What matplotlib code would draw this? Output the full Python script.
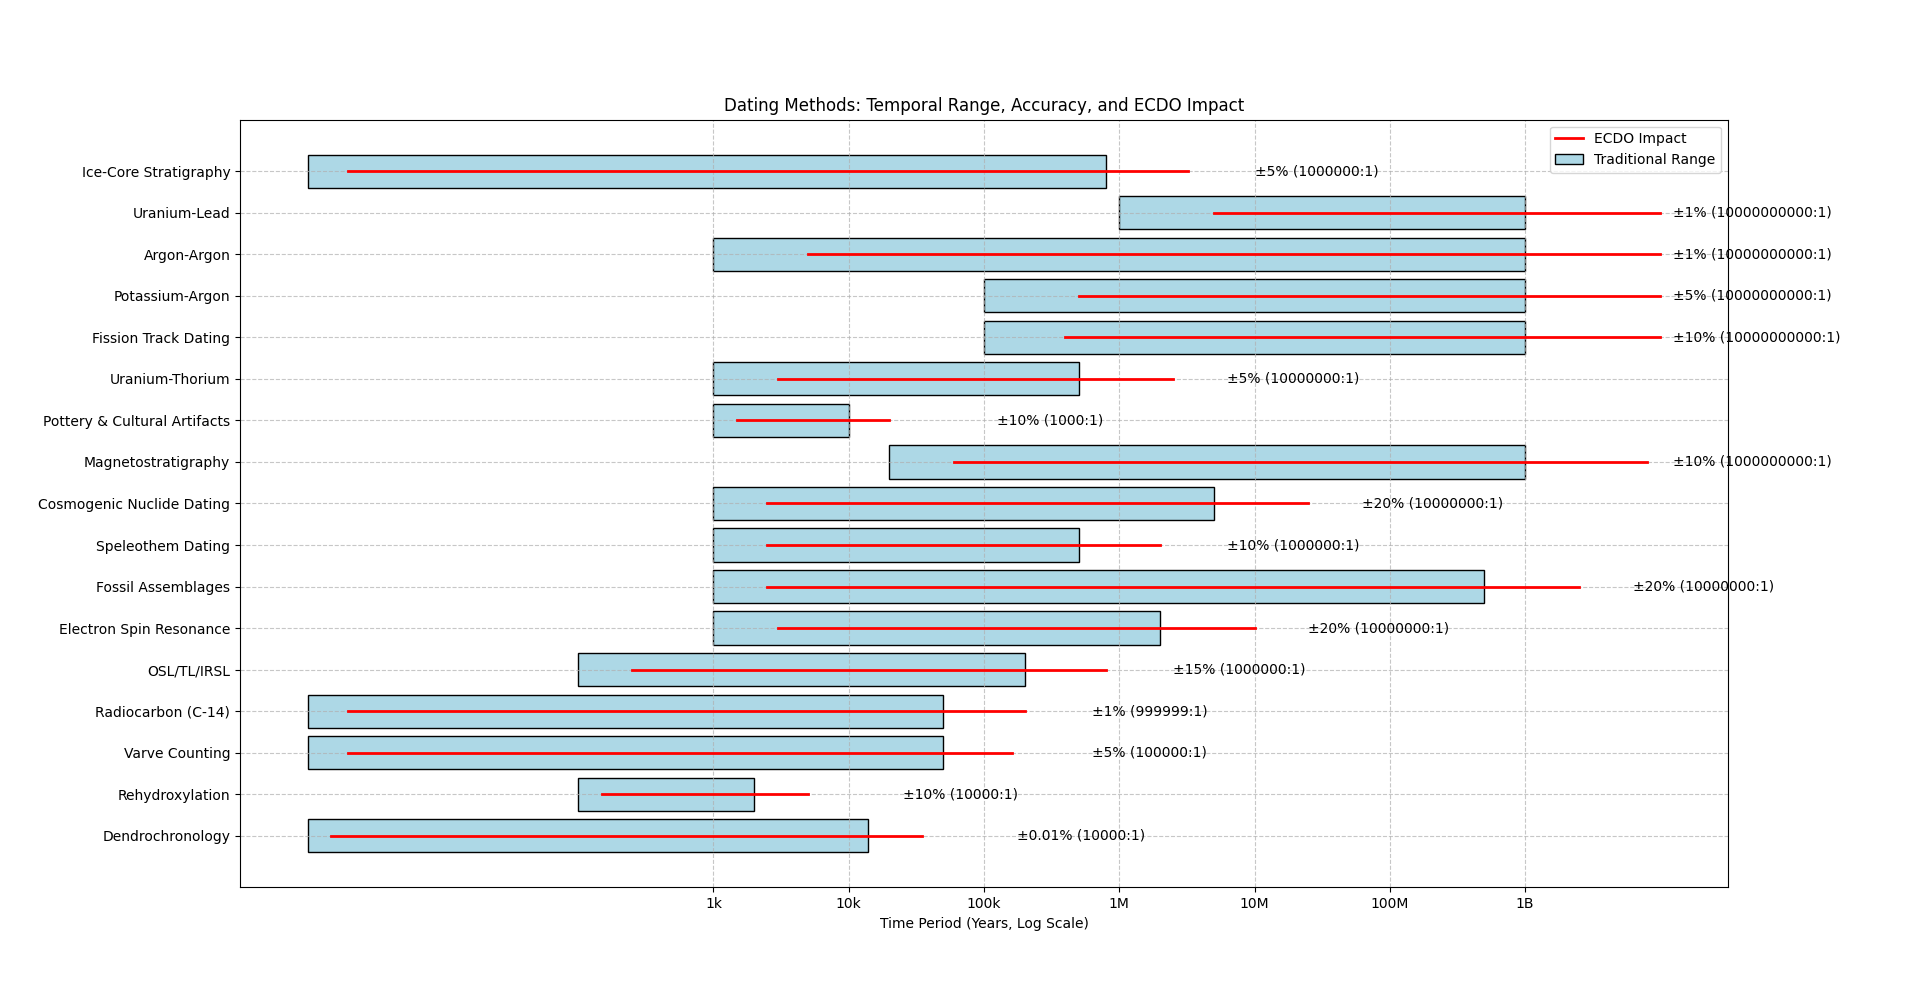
import numpy as np
import matplotlib
matplotlib.use("Agg")
import matplotlib.pyplot as plt
from matplotlib.ticker import NullLocator

# rows listed bottom -> top
methods = ["Dendrochronology", "Rehydroxylation", "Varve Counting", "Radiocarbon (C-14)",
           "OSL/TL/IRSL", "Electron Spin Resonance", "Fossil Assemblages", "Speleothem Dating",
           "Cosmogenic Nuclide Dating", "Magnetostratigraphy", "Pottery & Cultural Artifacts",
           "Uranium-Thorium", "Fission Track Dating", "Potassium-Argon", "Argon-Argon",
           "Uranium-Lead", "Ice-Core Stratigraphy"]
trad_start = [1, 100, 1, 1, 100, 1e3, 1e3, 1e3, 1e3, 2e4, 1e3, 1e3, 1e5, 1e5, 1e3, 1e6, 1]
trad_end = [1.4e4, 2e3, 5e4, 5e4, 2e5, 2e6, 5e8, 5e5, 5e6, 1e9, 1e4, 5e5, 1e9, 1e9, 1e9, 1e9, 8e5]
ecdo_start = [1.5, 150, 2, 2, 250, 3e3, 2.5e3, 2.5e3, 2.5e3, 6e4, 1.5e3, 3e3, 4e5, 5e5, 5e3, 5e6, 2]
ecdo_end = [3.5e4, 5e3, 1.6e5, 2e5, 8e5, 1e7, 2.5e9, 2e6, 2.5e7, 8e9, 2e4, 2.5e6, 1e10, 1e10, 1e10, 1e10, 3.2e6]
accuracy = ["±0.01%", "±10%", "±5%", "±1%", "±15%", "±20%", "±20%", "±10%", "±20%", "±10%",
            "±10%", "±5%", "±10%", "±5%", "±1%", "±1%", "±5%"]
ratio = ["10000:1", "10000:1", "100000:1", "999999:1", "1000000:1", "10000000:1", "10000000:1",
         "1000000:1", "10000000:1", "1000000000:1", "1000:1", "10000000:1", "10000000000:1",
         "10000000000:1", "10000000000:1", "10000000000:1", "1000000:1"]

tick_vals = [1e3, 1e4, 1e5, 1e6, 1e7, 1e8, 1e9]
tick_labels = ["1k", "10k", "100k", "1M", "10M", "100M", "1B"]

fig, ax = plt.subplots(figsize=(19.2, 9.97), dpi=100)
ax.use_sticky_edges = False
y = np.arange(len(methods))
starts = np.array(trad_start)
ends = np.array(trad_end)

ax.barh(y, ends - starts, left=starts, height=0.8, color="lightblue",
        edgecolor="black", label="Traditional Range")
for i in range(len(methods)):
    ax.plot([ecdo_start[i], ecdo_end[i]], [y[i], y[i]], color="red", linewidth=2,
            label="ECDO Impact" if i == 0 else None)
    ax.text(ends[i] * 12.5, y[i], f"{accuracy[i]} ({ratio[i]})", va="center", fontsize=10)

ax.set_xscale("log")
ax.set_xticks(tick_vals)
ax.set_xticklabels(tick_labels)
ax.xaxis.set_minor_locator(NullLocator())
ax.set_yticks(y)
ax.set_yticklabels(methods)
ax.set_xlabel("Time Period (Years, Log Scale)")
ax.set_title("Dating Methods: Temporal Range, Accuracy, and ECDO Impact")
ax.grid(True, linestyle="--", alpha=0.7)
ax.legend(loc="upper right")

plt.savefig("out.png")
